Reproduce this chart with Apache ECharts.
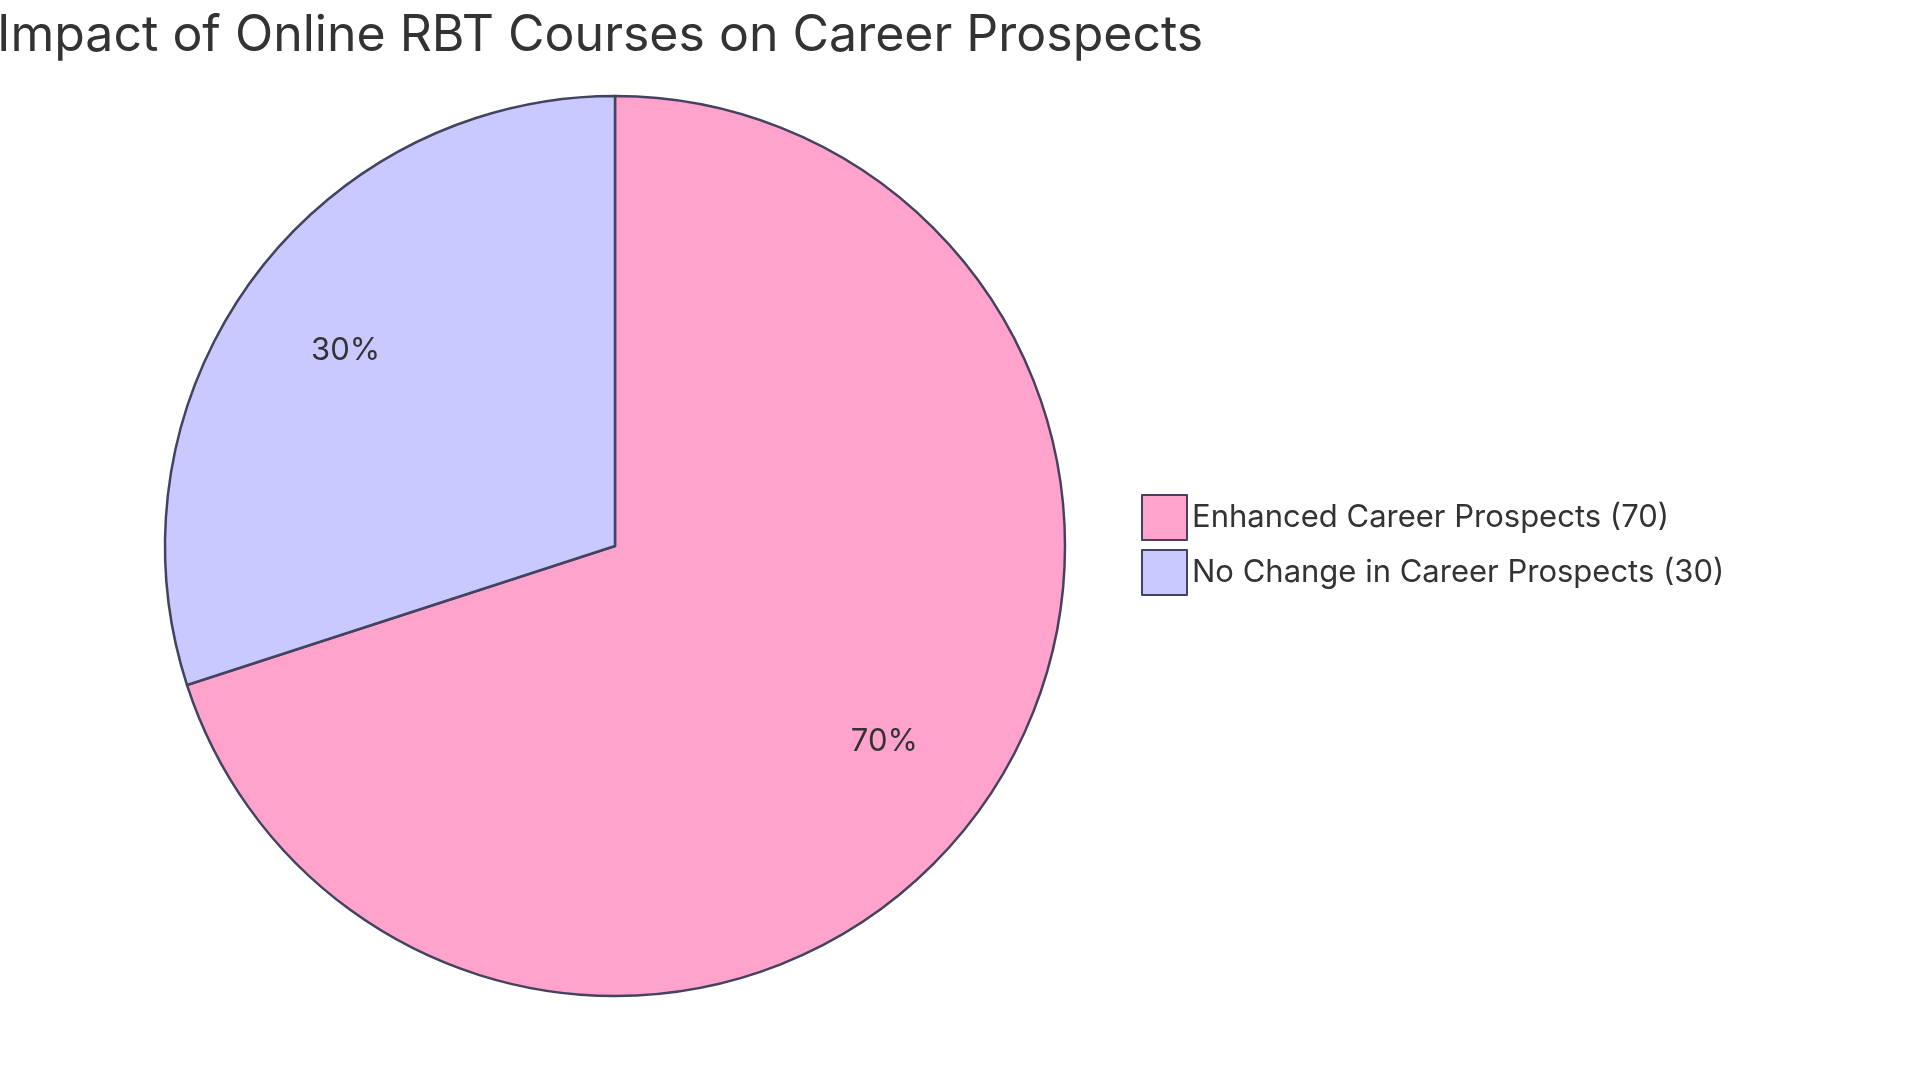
<!DOCTYPE html><html><head><meta charset="utf-8">
<script src="https://cdn.jsdelivr.net/npm/echarts@6/dist/echarts.min.js"></script>
<style>html,body{margin:0;padding:0;background:#fff}#c{width:1920px;height:1083px}</style></head><body><div id="c"></div>
<script>
const title = 'Impact of Online RBT Courses on Career Prospects';
const categories = ['Enhanced Career Prospects', 'No Change in Career Prospects'];
const values = [70, 30];
const colors = ['#FFA3CC', '#C9C9FF'];
const data = categories.map((n, i) => ({ name: n + ' (' + values[i] + ')', value: values[i], itemStyle: { color: colors[i] } }));
const total = values.reduce((a, b) => a + b, 0);
const chart = echarts.init(document.getElementById('c'));
chart.setOption({
  animation: false,
  title: { text: title, left: -8, top: 6, textStyle: { fontFamily: 'Inter', fontWeight: 'normal', fontSize: 50, color: '#333' } },
  legend: { orient: 'vertical', left: 1136, top: 489, itemWidth: 45, itemHeight: 45, itemGap: 8,
    textStyle: { fontFamily: 'Inter', fontSize: 31, color: '#333' }, icon: 'rect' },
  series: [
    { type: 'pie', center: [615, 546], radius: [0, 450], startAngle: 90, clockwise: true, data: data,
      itemStyle: { borderColor: '#434360', borderWidth: 2.5 }, label: { show: false }, labelLine: { show: false }, silent: true },
    { type: 'pie', center: [615, 546], radius: [210, 450], startAngle: 90, clockwise: true, silent: true, legendHoverLink: false,
      data: data.map(d => ({ name: d.name, value: d.value, itemStyle: { color: 'transparent', borderWidth: 0 } })),
      label: { show: true, position: 'inside', formatter: p => Math.round(p.value / total * 100) + '%', fontFamily: 'Inter', fontSize: 31, color: '#333' },
      labelLine: { show: false } }
  ]
});
</script></body></html>
